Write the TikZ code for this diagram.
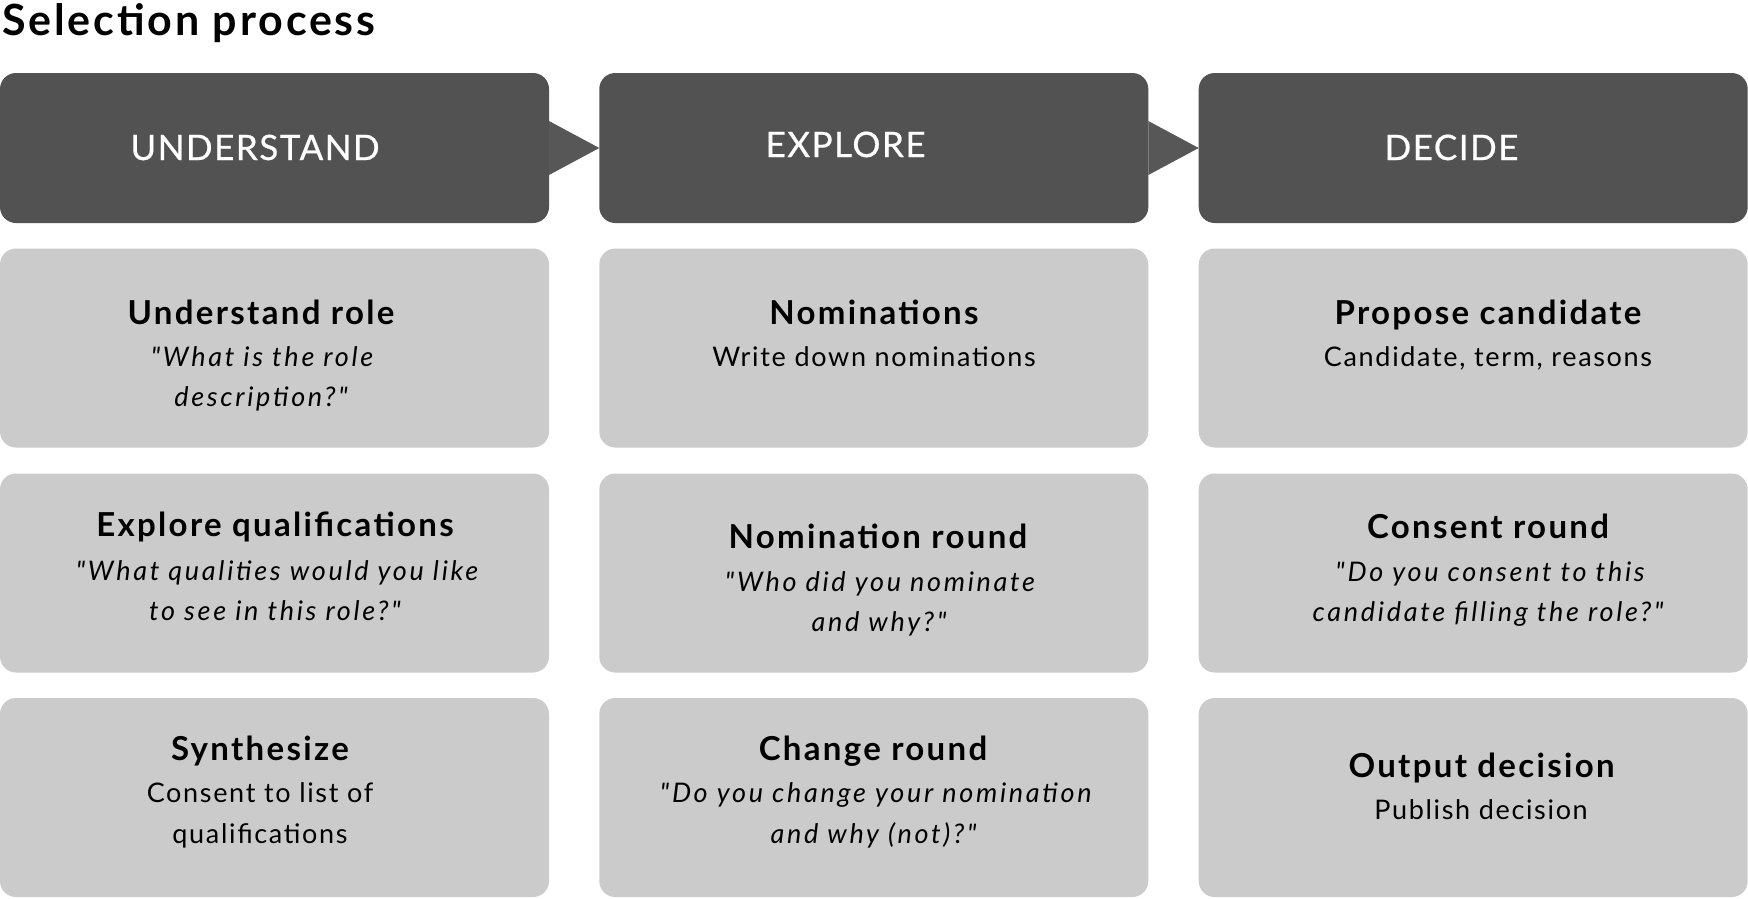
\documentclass[tikz,border=0pt]{standalone}
\usepackage{fontspec}
\setmainfont{Lato}[Ligatures=TeXOff, LetterSpace=6.2, BoldFeatures={LetterSpace=7}, ItalicFeatures={LetterSpace=10}]
\newfontfamily\hdrfont{Lato}[Ligatures=TeXOff, LetterSpace=4.3, FakeBold=0.6]
\newfontfamily\bigfont{Lato}[Ligatures=TeXOff, LetterSpace=6.6]
\definecolor{hdrgray}{HTML}{525252}
\definecolor{trigray}{HTML}{575757}
\definecolor{cellgray}{HTML}{CBCBCB}
\begin{document}
\begin{tikzpicture}[x=1pt,y=-1pt,
  hdr/.style={fill=hdrgray, rounded corners=16pt, minimum width=549pt, minimum height=150pt, inner sep=0pt, outer sep=0pt, anchor=north west},
  cell/.style={fill=cellgray, rounded corners=16pt, minimum width=549pt, minimum height=199pt, inner sep=0pt, outer sep=0pt, anchor=north west},
  htext/.style={text=white, font=\hdrfont\fontsize{35}{40}\selectfont, anchor=base, inner sep=0pt},
  ttl/.style={font=\bfseries\fontsize{33}{40}\selectfont, anchor=base, inner sep=0pt},
  bdy/.style={font=\fontsize{27}{40}\selectfont, anchor=base, inner sep=0pt},
  bdyi/.style={font=\itshape\fontsize{27}{40}\selectfont, anchor=base, inner sep=0pt},
  conn/.style={fill=trigray},
]
\useasboundingbox[fill=white] (0,0) rectangle (1748,898);
\node[font=\bigfont\bfseries\fontsize{43}{50}\selectfont, anchor=base west, inner sep=0pt] (title) at (2,35) {Selection process};
% headers
\node[hdr] (h1) at (0,73) {};
\node[hdr] (h2) at (599.3,73) {};
\node[hdr] (h3) at (1198.7,73) {};
\fill[conn] ([yshift=27pt]h1.east) -- (h2.west) -- ([yshift=-27pt]h1.east) -- cycle;
\fill[conn] ([yshift=27pt]h2.east) -- (h3.west) -- ([yshift=-27pt]h2.east) -- cycle;
\node[htext] (h1t) at (255,160) {UNDERSTAND};
\node[htext] (h2t) at (845.6,157) {EXPLORE};
\node[htext] (h3t) at (1451.5,160) {DECIDE};
% cells
\node[cell] (c11) at (0,248.5) {};
\node[cell] (c21) at (599.3,248.5) {};
\node[cell] (c31) at (1198.7,248.5) {};
\node[cell] (c12) at (0,473.5) {};
\node[cell] (c22) at (599.3,473.5) {};
\node[cell] (c32) at (1198.7,473.5) {};
\node[cell] (c13) at (0,698) {};
\node[cell] (c23) at (599.3,698) {};
\node[cell] (c33) at (1198.7,698) {};
% row 1
\node[ttl] (t11) at (261,324) {Understand role};
\node[bdyi] (t11a) at (262,366.7) {"What is the role};
\node[bdyi] (t11b) at (261,406.7) {description?"};
\node[ttl] (t21) at (874,324) {Nominations};
\node[bdy] (t21a) at (874,366.7) {Write down nominations};
\node[ttl] (t31) at (1488,324) {Propose candidate};
\node[bdy] (t31a) at (1488,366.7) {Candidate, term, reasons};
% row 2
\node[ttl] (t12) at (275,536) {Explore qualifications};
\node[bdyi] (t12a) at (277,580) {"What qualities would you like};
\node[bdyi] (t12b) at (275,620) {to see in this role?"};
\node[ttl] (t22) at (878,548.3) {Nomination round};
\node[bdyi] (t22a) at (880,591.7) {"Who did you nominate};
\node[bdyi] (t22b) at (879,631.7) {and why?"};
\node[ttl] (t32) at (1488,538.3) {Consent round};
\node[bdyi] (t32a) at (1490,581.7) {"Do you consent to this};
\node[bdyi] (t32b) at (1488,621.7) {candidate filling the role?"};
% row 3
\node[ttl] (t13) at (260,760.7) {Synthesize};
\node[bdy] (t13a) at (260,802.7) {Consent to list of};
\node[bdy] (t13b) at (260,843.3) {qualifications};
\node[ttl] (t23) at (873,760.5) {Change round};
\node[bdyi] (t23a) at (875.7,802.7) {"Do you change your nomination};
\node[bdyi] (t23b) at (873.5,843.5) {and why (not)?"};
\node[ttl] (t33) at (1481.6,777) {Output decision};
\node[bdy] (t33a) at (1481,819.3) {Publish decision};
\end{tikzpicture}
\end{document}
